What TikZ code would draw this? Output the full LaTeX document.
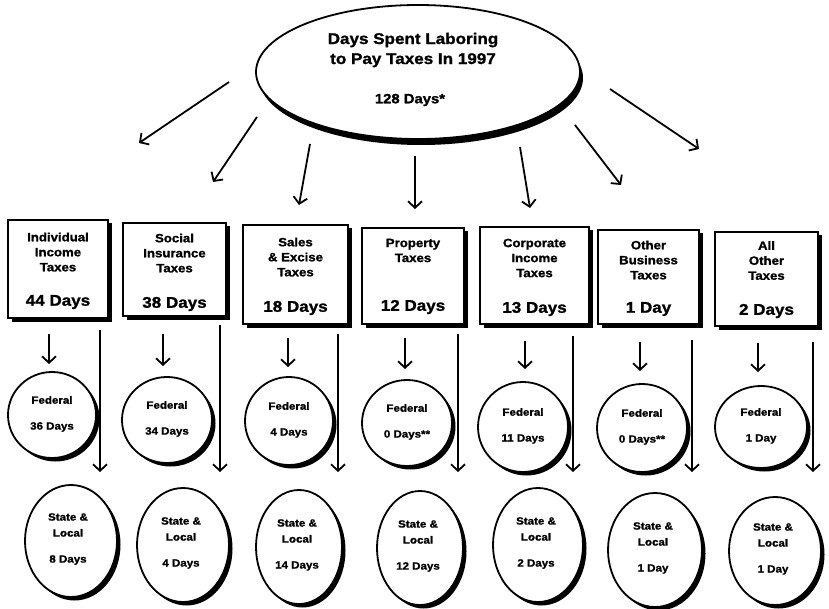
\documentclass[tikz,border=0pt]{standalone}
\usepackage{fontspec}
\setmainfont{Liberation Sans}[FakeStretch=1.1,BoldFeatures={FakeBold=1.2}]
\usetikzlibrary{shapes.geometric,shadows,arrows.meta}
\begin{document}
\begin{tikzpicture}[x=1pt,y=-1pt,
  dshadow/.style={drop shadow={shadow xshift=3.5pt,shadow yshift=-3.5pt,fill=black,opacity=1}},
  topshadow/.style={drop shadow={shadow xshift=3pt,shadow yshift=-6pt,fill=black,opacity=1}},
  taxbox/.style={draw,line width=1.8pt,fill=white,rectangle,inner sep=0pt,dshadow},
  oval/.style={draw,line width=1.8pt,fill=white,ellipse,inner sep=0pt,dshadow},
  arr/.style={line width=1.8pt,-{Straight Barb[length=6.5pt,width=14pt,line width=1.8pt]}},
  ttl/.style={font=\bfseries\fontsize{15.5}{20}\selectfont,align=center,inner sep=0pt},
  tot/.style={font=\bfseries\fontsize{13.5}{16}\selectfont,inner sep=0pt},
  bt/.style={font=\bfseries\fontsize{12}{15}\selectfont,align=center,inner sep=0pt},
  bd/.style={font=\bfseries\fontsize{15.5}{18}\selectfont,inner sep=0pt},
  ft/.style={font=\bfseries\fontsize{10.5}{13}\selectfont,inner sep=0pt},
  st/.style={font=\bfseries\fontsize{10.5}{16}\selectfont,align=center,inner sep=0pt}
]
\useasboundingbox (0,0) rectangle (829,609);

% top ellipse
\node[draw,line width=1.8pt,fill=white,ellipse,inner sep=0pt,topshadow,minimum width=324pt,minimum height=134pt] (top) at (418,72) {};
\node[ttl] (toptitle) at (413,50) {Days Spent Laboring\\to Pay Taxes In 1997};
\node[tot] (toptotal) at (410,100) {128 Days*};

% arrows from top ellipse
\coordinate (s1) at (229,82);  \coordinate (e1) at (139,143);
\coordinate (s2) at (257,117); \coordinate (e2) at (213,182);
\coordinate (s3) at (310,144); \coordinate (e3) at (299,205);
\coordinate (s4) at (415,156); \coordinate (e4) at (415,209);
\coordinate (s5) at (520,147); \coordinate (e5) at (530,208);
\coordinate (s6) at (575,125); \coordinate (e6) at (621,185);
\coordinate (s7) at (610,89);  \coordinate (e7) at (699,149);
\foreach \i in {1,...,7} \draw[arr] (s\i) -- (e\i);

% boxes
\node[taxbox,minimum width=100pt,minimum height=98pt] (b1) at (58,269) {};
\node[taxbox,minimum width=103pt,minimum height=93pt] (b2) at (174.5,269.5) {};
\node[taxbox,minimum width=105pt,minimum height=99pt] (b3) at (295.5,274.5) {};
\node[taxbox,minimum width=102pt,minimum height=96pt] (b4) at (413,276) {};
\node[taxbox,minimum width=109pt,minimum height=97pt] (b5) at (534.5,275.5) {};
\node[taxbox,minimum width=101pt,minimum height=94pt] (b6) at (648.5,277) {};
\node[taxbox,minimum width=103pt,minimum height=94pt] (b7) at (766.5,279) {};

\node[bt] (b1t) at (58,252) {Individual\\Income\\Taxes};
\node[bd] (b1d) at (58,302) {44 Days};
\node[bt] (b2t) at (174.5,253) {Social\\Insurance\\Taxes};
\node[bd] (b2d) at (174.5,304) {38 Days};
\node[bt] (b3t) at (295.5,257) {Sales\\\& Excise\\Taxes};
\node[bd] (b3d) at (295.5,308) {18 Days};
\node[bt] (b4t) at (413,250.5) {Property\\Taxes};
\node[bd] (b4d) at (413,307) {12 Days};
\node[bt] (b5t) at (534.5,258) {Corporate\\Income\\Taxes};
\node[bd] (b5d) at (534.5,309) {13 Days};
\node[bt] (b6t) at (648.5,260) {Other\\Business\\Taxes};
\node[bd] (b6d) at (648.5,309) {1 Day};
\node[bt] (b7t) at (766.5,260.5) {All\\Other\\Taxes};
\node[bd] (b7d) at (766.5,311) {2 Days};

% federal circles
\node[oval,minimum width=88pt,minimum height=86pt] (f1) at (52,415) {};
\node[oval,minimum width=90pt,minimum height=86pt] (f2) at (167,420) {};
\node[oval,minimum width=88pt,minimum height=88pt] (f3) at (289,421) {};
\node[oval,minimum width=90pt,minimum height=86pt] (f4) at (407,423) {};
\node[oval,minimum width=90pt,minimum height=90pt] (f5) at (523,427) {};
\node[oval,minimum width=90pt,minimum height=88pt] (f6) at (642,428) {};
\node[oval,minimum width=92pt,minimum height=82pt] (f7) at (761,427) {};

\node[ft] (f1t) at (52,400) {Federal};   \node[ft] (f1d) at (52,427) {36 Days};
\node[ft] (f2t) at (167,405) {Federal};  \node[ft] (f2d) at (167,432) {34 Days};
\node[ft] (f3t) at (289,406) {Federal};  \node[ft] (f3d) at (289,433) {4 Days};
\node[ft] (f4t) at (407,408) {Federal};  \node[ft] (f4d) at (407,435) {0 Days**};
\node[ft] (f5t) at (523,412) {Federal};  \node[ft] (f5d) at (523,439) {11 Days};
\node[ft] (f6t) at (642,413) {Federal};  \node[ft] (f6d) at (642,440) {0 Days**};
\node[ft] (f7t) at (761,412) {Federal};  \node[ft] (f7d) at (761,439) {1 Day};

% state & local ellipses
\node[oval,minimum width=92pt,minimum height=112pt] (l1) at (71,541) {};
\node[oval,minimum width=92pt,minimum height=114pt] (l2) at (183,545) {};
\node[oval,minimum width=86pt,minimum height=114pt] (l3) at (299,547) {};
\node[oval,minimum width=86pt,minimum height=114pt] (l4) at (420,548) {};
\node[oval,minimum width=90pt,minimum height=114pt] (l5) at (538,545) {};
\node[oval,minimum width=94pt,minimum height=114pt] (l6) at (655,550) {};
\node[oval,minimum width=92pt,minimum height=108pt] (l7) at (775,551) {};

\node[st] (l1t) at (68,525) {State \&\\Local};  \node[ft] (l1d) at (68,560) {8 Days};
\node[st] (l2t) at (181,529) {State \&\\Local}; \node[ft] (l2d) at (181,564) {4 Days};
\node[st] (l3t) at (297,531) {State \&\\Local}; \node[ft] (l3d) at (297,566) {14 Days};
\node[st] (l4t) at (418,532) {State \&\\Local}; \node[ft] (l4d) at (418,567) {12 Days};
\node[st] (l5t) at (536,529) {State \&\\Local}; \node[ft] (l5d) at (536,564) {2 Days};
\node[st] (l6t) at (653,534) {State \&\\Local}; \node[ft] (l6d) at (653,569) {1 Day};
\node[st] (l7t) at (773,535) {State \&\\Local}; \node[ft] (l7d) at (773,570) {1 Day};

% short arrows box -> federal
\foreach \i/\x/\ya/\yb in {1/49/334/364, 2/163/334/366, 3/288/338/367, 4/405/338/369, 5/525/341/369, 6/640/342/371, 7/758/343/372}{
  \coordinate (fs\i) at (\x,\ya);
  \coordinate (fe\i) at (\x,\yb);
  \draw[arr] (fs\i) -- (fe\i);
}
% long arrows box -> state & local
\foreach \i/\x/\ya in {1/100/330, 2/220/325, 3/338/334, 4/458/334, 5/573/336, 6/692/340, 7/813/342}{
  \coordinate (ls\i) at (\x,\ya);
  \coordinate (le\i) at (\x,472);
  \draw[arr] (ls\i) -- (le\i);
}
\end{tikzpicture}
\end{document}
